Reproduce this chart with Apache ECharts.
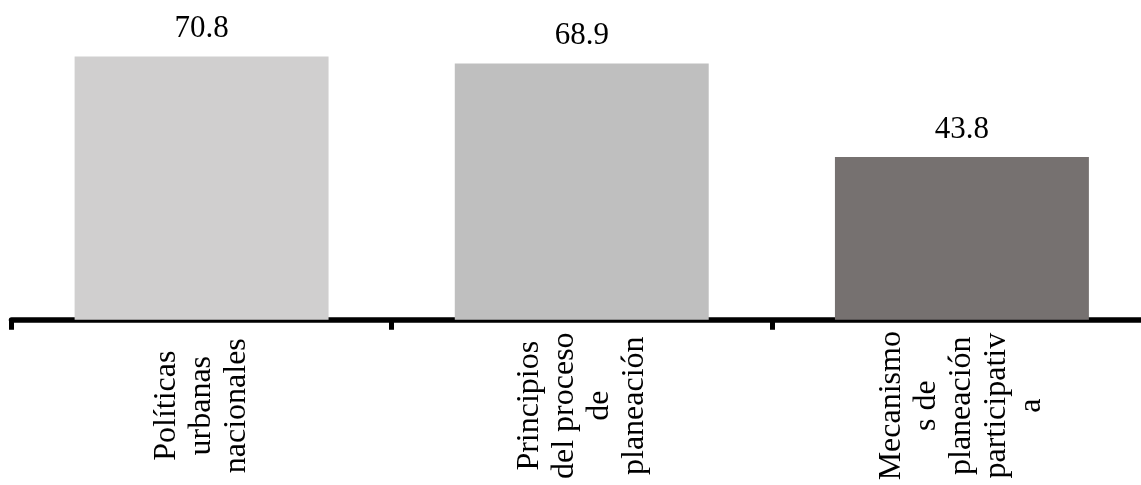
<!DOCTYPE html>
<html>
<head>
<meta charset="utf-8">
<script src="https://cdn.jsdelivr.net/npm/echarts@6/dist/echarts.min.js"></script>
<style>
  html, body { margin: 0; padding: 0; background: #ffffff; overflow: hidden; width: 1141px; height: 485px; }
  /* the last category runs past the right edge of the page, so the canvas is wider than the view */
  #chart { width: 1152px; height: 485px; }
</style>
</head>
<body>
<div id="chart"></div>
<script>
// Categories (line breaks as they wrap under the axis)
const categories = [
  'Políticas\nurbanas\nnacionales',
  'Principios\ndel proceso\nde\nplaneación',
  'Mecanismo\ns de\nplaneación\nparticipativ\na'
];
// Percentages per category
const values = [70.8, 68.9, 43.8];
// Fill per bar
const barColors = ['#d0cfcf', '#bfbfbf', '#767170'];

const serif = '"Liberation Serif", "Times New Roman", serif';

const chart = echarts.init(document.getElementById('chart'), null, { renderer: 'canvas' });

chart.setOption({
  backgroundColor: '#ffffff',
  animation: false,
  grid: { left: 11.5, right: 0, top: 0, bottom: 165.3, containLabel: false },
  xAxis: {
    type: 'category',
    data: categories,
    boundaryGap: true,
    axisLine: { show: true, lineStyle: { color: '#000000', width: 5.5 } },
    axisTick: { show: true, alignWithLabel: false, length: 10, lineStyle: { color: '#000000', width: 5 } },
    axisLabel: {
      interval: 0,
      rotate: 90,
      align: 'center',
      verticalAlign: 'middle',
      margin: 86,
      color: '#000000',
      fontFamily: serif,
      fontSize: 32,
      lineHeight: 35
    }
  },
  yAxis: {
    type: 'value',
    min: 0,
    max: 86,
    show: false,
    splitLine: { show: false }
  },
  series: [{
    type: 'bar',
    barWidth: '66.8%',
    data: values.map((v, i) => ({ value: v, itemStyle: { color: barColors[i] } })),
    label: {
      show: true,
      position: 'top',
      distance: 12,
      color: '#000000',
      fontFamily: serif,
      fontSize: 31,
      formatter: p => p.value.toFixed(1)
    }
  }]
});
</script>
</body>
</html>
